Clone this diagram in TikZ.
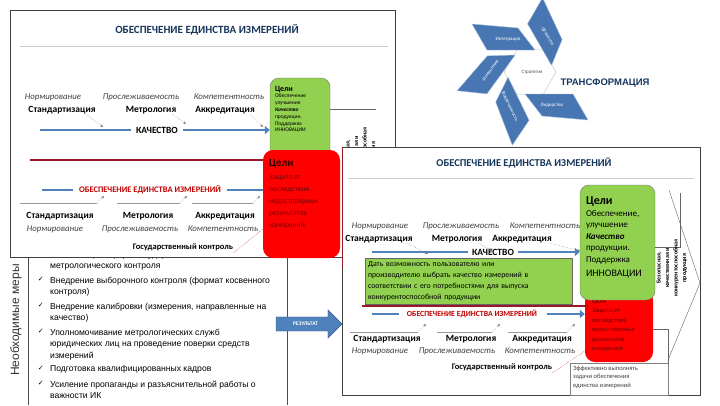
\documentclass[tikz,border=0pt]{standalone}
\usepackage{fontspec}
\setmainfont{Carlito}
\newfontfamily\listfont{Liberation Sans}
\newfontfamily\markfont{DejaVu Sans}
\usetikzlibrary{arrows.meta,positioning,shapes.arrows}

\definecolor{titleblue}{RGB}{23,54,93}
\definecolor{goalgreen}{RGB}{146,208,80}
\definecolor{goalred}{RGB}{255,0,0}
\definecolor{qblue}{RGB}{79,129,189}
\definecolor{linered}{RGB}{150,25,35}
\definecolor{textred}{RGB}{192,0,0}
\definecolor{risktext}{RGB}{115,0,0}
\definecolor{bladeblue}{RGB}{72,118,178}
\newcommand{\fsz}[2]{\fontsize{#1}{#2}\selectfont}

\begin{document}
\begin{tikzpicture}[x=1pt,y=-1pt]
    \tikzstyle{panel} = [draw=black!75, fill=white, line width=0.7pt]
    \tikzstyle{rule} = [black!20, line width=0.8pt]
    \tikzstyle{title} = [font=\fsz{11}{13}\bfseries, text=titleblue, inner sep=0pt]
    \tikzstyle{norm} = [font=\fsz{8.8}{10}\itshape, text=black!75, inner sep=0pt]
    \tikzstyle{field} = [font=\fsz{9.5}{11}\bfseries, inner sep=0pt]
    \tikzstyle{quality} = [font=\fsz{9.5}{11}\bfseries, inner sep=0pt]
    \tikzstyle{unity} = [font=\fsz{8.5}{10}\bfseries, text=textred, inner sep=0pt]
    \tikzstyle{control} = [font=\fsz{8.5}{10}\bfseries, inner sep=0pt]
    \tikzstyle{qline} = [qblue, line width=2.2pt]
    \tikzstyle{qarrow} = [qline, -{Triangle[length=5pt,width=8pt]}]
    \tikzstyle{hint} = [black!55, densely dotted, thin, -{Stealth[length=3pt,width=2.5pt]}]
    \tikzstyle{under} = [black!40, thin]
    \tikzstyle{redline} = [linered, line width=2pt]
    \tikzstyle{reddots} = [textred, densely dotted, thin]
    \tikzstyle{goal} = [rounded corners=9pt, draw=black!55, fill=goalgreen, inner sep=0pt]
    \tikzstyle{risk} = [rounded corners=10pt, fill=goalred, inner sep=0pt]
    \tikzstyle{goaltext} = [align=left, inner sep=0pt, anchor=north west]
    \tikzstyle{link} = [black!60, thin]
    \tikzstyle{outcome} = [align=center, rotate=90, inner sep=0pt, font=\fsz{6}{8.5}\bfseries]
    \tikzstyle{measure} = [align=left, inner sep=0pt, anchor=north west, font=\listfont\fsz{8.6}{11.5}]
    \tikzstyle{tick} = [inner sep=0pt, font=\markfont\fsz{7}{8}]
    \tikzstyle{blade} = [fill=bladeblue, draw=qblue!50!white, line width=0.4pt]
    \tikzstyle{bladetext} = [text=white, font=\fsz{5}{6}, inner sep=0pt]

    \useasboundingbox[fill=white] (0,0) rectangle (720,405);

    % необходимые меры
    \draw[black!70] (28,250) -- (28,405) (287,250) -- (287,405);
    \node (needs) [rotate=90, font=\listfont\fsz{12}{14}, text=black!80] at (16,320) {Необходимые меры};
    \foreach \n/\y/\txt in {1/251/{Оптимизация сферы государственного\\метрологического контроля},
        2/276.5/{Внедрение выборочного контроля (формат косвенного\\контроля)},
        3/302.5/{Внедрение калибровки (измерения, направленные на\\качество)},
        4/328.5/{Уполномочивание метрологических служб\\юридических лиц на проведение поверки средств\\измерений},
        5/365.5/{Подготовка квалифицированных кадров},
        6/380.5/{Усиление пропаганды и разъяснительной работы о\\важности ИК}} {
        \node (m\n) [measure] at (50,\y) {\txt};
        \node (c\n) [tick, left=6pt of m\n.north west, anchor=north east] {✓};
    }

    % обеспечение единства измерений (1)
    \draw[panel] (10,10) rectangle (395,257);
    \node (t1) [title] at (207,30) {ОБЕСПЕЧЕНИЕ ЕДИНСТВА ИЗМЕРЕНИЙ};
    \draw[rule] (20,46) -- (388,46);
    \node (a1) [norm] at (53,97) {Нормирование};
    \node (a2) [norm] at (141,97) {Прослеживаемость};
    \node (a3) [norm] at (229,97) {Компетентность};
    \node (b1) [field] at (62,110) {Стандартизация};
    \node (b2) [field] at (151,110) {Метрология};
    \node (b3) [field] at (225,110) {Аккредитация};
    \node (g1) [goal, minimum width=60, minimum height=90] at (300,123) {};
    \node (g1t) [goaltext, font=\fsz{5.5}{6.8}] at ([shift={(5,8)}]g1.north west)
        {{\fsz{8}{9}\bfseries Цели}\\Обеспечение\\улучшение\\\textbf{\textit{Качество}}\\продукции.\\Поддержка\\ИННОВАЦИИ};
    \node (q1) [quality, inner xsep=5pt] at (157,130) {КАЧЕСТВО};
    \coordinate (q1s) at (40,130);
    \draw[qline] (q1s) -- (q1.west);
    \draw[qarrow] (q1.east) -- (q1 -| g1.west);
    \coordinate (h1) at (103,127);
    \coordinate (h2) at (186,124);
    \coordinate (h3) at (263,127);
    \draw[hint] ([xshift=-10pt]b1.south east) -- (h1);
    \draw[hint] ([xshift=-4pt]b2.south east) -- (h2);
    \draw[hint] ([xshift=-5pt]b3.south east) -- (h3);
    \coordinate (o1) at (376,109);
    \draw[link] (g1.east |- o1) -- (o1);
    \node (o1t) [outcome] at (361,156) {Безопасная,\\качественная и\\конкурентоспособная\\продукция};

    \draw[redline] (30,160) -- (265,160);
    \node (u1) [unity] at (150,190) {ОБЕСПЕЧЕНИЕ ЕДИНСТВА ИЗМЕРЕНИЙ};
    \draw[qline] (42,190) -- ([xshift=-6pt]u1.west);
    \draw[qline] ([xshift=6pt]u1.east) -- (275,190);
    \foreach \xa/\xb in {20/97, 117/180, 192/253} {
        \draw[under] (\xa,203) -- (\xb,203);
        \draw[hint] (\xb,203) -- (\xb+7,196);
    }
    \node (c1) [field] at (60,216) {Стандартизация};
    \node (c2) [field] at (148,216) {Метрология};
    \node (c3) [field] at (225,216) {Аккредитация};
    \node (d1) [norm] at (55,229) {Нормирование};
    \node (d2) [norm] at (140,229) {Прослеживаемость};
    \node (d3) [norm] at (223,229) {Компетентность};
    \node (k1) [control] at (183,247) {Государственный контроль};
    \node (r1) [risk, minimum width=77, minimum height=108] at (301.5,204) {};
    \draw[reddots] ([yshift=-6pt]k1.east) -- (r1.west |- d3);
    \node (r1t) [goaltext, text=risktext, font=\fsz{7.5}{11.8}] at ([shift={(6,9)}]r1.north west)
        {{\fsz{11}{12}\bfseries\color{black!80!red}Цели}\\[2pt]Защита от\\последствий\\недостоверных\\результатов\\измерений};

    % результат
    \node (res) [single arrow, fill=qblue, draw=qblue!70!black, minimum height=66, inner xsep=2pt, inner ysep=5pt,
        single arrow head extend=7pt, text=white, font=\fsz{5.5}{6}\bfseries] at (305.5,324) {РЕЗУЛЬТАТ};

    % трансформация
    \begin{scope}[shift={(530,72)}]
        \draw[black!25, thin] (0:26) -- (60:26) -- (120:26) -- (180:26) -- (240:26) -- (300:26) -- cycle;
        \foreach \a/\txt/\r in {0/Интеграция/0, -60/Ценности/-60, 180/Лидерство/0, 116/Вовлеченность/-64, 54/Изменения/54} {
            \begin{scope}[rotate=\a]
                \draw[blade] (-58,-48) -- (-12,-44) -- (5,-22) -- (-43,-22) -- cycle;
                \node[bladetext, rotate=\r] at (-22,-33) {\txt};
            \end{scope}
        }
        \node (core) [font=\fsz{5}{6}, text=black!70, inner sep=0pt] at (2,0) {Стратегия};
    \end{scope}
    \node (trans) [font=\listfont\fsz{9.5}{11}\bfseries, text=titleblue, inner sep=0pt] at (605,83) {ТРАНСФОРМАЦИЯ};

    % обеспечение единства измерений (2)
    \draw[panel] (342,147) rectangle (700,395);
    \draw[linered, line width=0.8pt] (342,147) -- (342,268);
    \node (t2) [title, font=\fsz{10.5}{12}\bfseries] at (524,163) {ОБЕСПЕЧЕНИЕ ЕДИНСТВА ИЗМЕРЕНИЙ};
    \draw[rule] (348,178) -- (694,178);
    \node (a4) [norm] at (380,226) {Нормирование};
    \node (a5) [norm] at (461,226) {Прослеживаемость};
    \node (a6) [norm] at (545,226) {Компетентность};
    \node (b4) [field] at (379,239) {Стандартизация};
    \node (b5) [field] at (457,239) {Метрология};
    \node (b6) [field] at (522,239) {Аккредитация};

    \node (w2) [draw=black!50, fill=white, minimum width=98, minimum height=32, inner sep=0pt] at (619,379) {};
    \node (w2t) [goaltext, font=\fsz{6.5}{8.5}, text=black!75] at ([shift={(3,3)}]w2.north west)
        {Эффективно выполнять\\задачи обеспечения\\единства измерений};
    \node (r2) [risk, minimum width=68, minimum height=72] at (619,326) {};
    \draw[link] ([yshift=-3pt]r2.east) -| (w2.north east);
    \node (r2t) [goaltext, text=risktext, font=\fsz{6.5}{9.5}] at ([shift={(7,9)}]r2.north west)
        {{\bfseries Цели}\\Защита от\\последствий\\недостоверных\\результатов\\измерений};
    \node (g2) [goal, minimum width=75, minimum height=115] at (617.5,242.5) {};
    \node (g2t) [goaltext, font=\fsz{9}{11.5}] at ([shift={(6,12)}]g2.north west)
        {{\fsz{12}{13}\bfseries Цели}\\Обеспечение,\\улучшение\\\textbf{\textit{Качество}}\\продукции.\\Поддержка\\[3pt]{\fsz{10}{11}ИННОВАЦИИ}};
    \coordinate (o2) at (680,193);
    \draw[link] ([yshift=-4.5pt]g2.east) -| (o2);
    \draw[link] (669,190) -- (700,283) -- (668,360);
    \node (o2t) [outcome] at (672,268) {Безопасная,\\качественная и\\конкурентоспособная\\продукция};

    \node (q2) [quality, inner xsep=4pt] at (493,252) {КАЧЕСТВО};
    \coordinate (q2s) at (372,252);
    \draw[qline] (q2s) -- (q2.west);
    \draw[qarrow] (q2.east) -- (q2 -| g2.west);
    \coordinate (h4) at (428,254);
    \coordinate (h5) at (492,251);
    \coordinate (h6) at (580,251);
    \draw[hint] ([xshift=-6pt]b4.south east) -- (h4);
    \draw[hint] ([xshift=-4pt]b5.south east) -- (h5);
    \draw[hint] ([xshift=-2pt]b6.south east) -- (h6);

    \node (p2) [draw=black!60, fill=goalgreen, text width=201, align=left, minimum height=46, inner xsep=3pt, inner ysep=1pt,
        font=\fsz{7.8}{11}] at (468.5,281) {Дать возможность пользователю или\\производителю выбрать качество измерений в\\соответствии с его потребностями для выпуска\\конкурентоспособной продукции};

    \draw[redline] (362,306) -- (588,306);
    \node (u2) [unity, font=\fsz{7.8}{9}\bfseries] at (472,314) {ОБЕСПЕЧЕНИЕ ЕДИНСТВА ИЗМЕРЕНИЙ};
    \draw[qline] (372,314) -- ([xshift=-8pt]u2.west);
    \draw[qarrow] ([xshift=10pt]u2.east) -- (u2 -| r2.west);
    \foreach \xa/\xb in {350/418, 437/492, 508/567} {
        \draw[under] (\xa,332) -- (\xb,332);
        \draw[hint] (\xb,332) -- (\xb+8,324);
    }
    \node (c4) [field] at (387,339) {Стандартизация};
    \node (c5) [field] at (471,339) {Метрология};
    \node (c6) [field] at (542,339) {Аккредитация};
    \node (d4) [norm] at (380,351) {Нормирование};
    \node (d5) [norm] at (457,351) {Прослеживаемость};
    \node (d6) [norm] at (540,351) {Компетентность};
    \node (k2) [control] at (502,367) {Государственный контроль};
    \draw[reddots] ([yshift=-6pt]k2.east) -- (r2.west |- d6);
\end{tikzpicture}
\end{document}
